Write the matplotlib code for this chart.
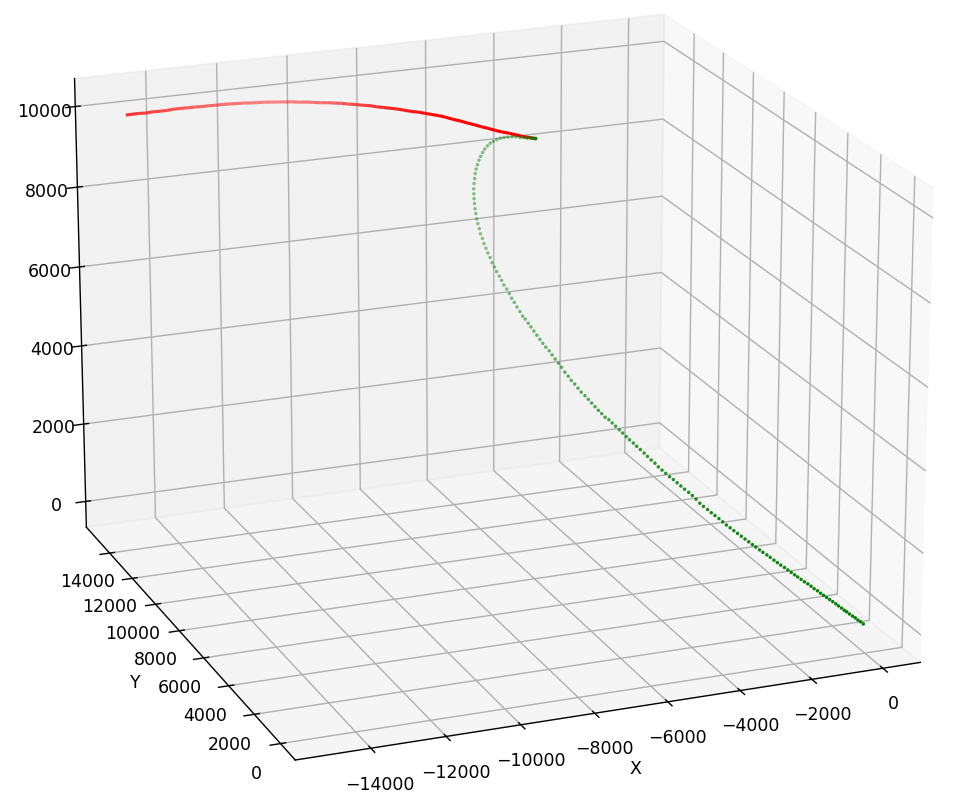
import matplotlib
matplotlib.use("Agg")
import matplotlib.pyplot as plt
import numpy as np
from mpl_toolkits.mplot3d.art3d import Line3DCollection

W, H, D = 962, 807, 125
x_limits = (-15987, 1065)
y_limits = (-1100, 16100)
z_limits = (-670, 10690)
x_ticks = list(range(-14000, 1, 2000))
y_ticks = list(range(0, 14001, 2000))
z_ticks = list(range(0, 10001, 2000))
x_calibration = 80

green_x = [-140,-190,-240,-290,-340,-400,-450,-500,-550,-610,-660,-720,-780,-840,-900,-960,-1020,-1090,-1150,-1220,-1290,-1360,-1430,-1490,-1560,-1630,-1700,-1780,-1850,-1920,-2000,-2070,-2160,-2230,-2310,-2380,-2460,
-2540,-2620,-2700,-2780,-2860,-2940,-3020,-3100,-3190,-3270,-3350,-3440,-3520,-3600,-3680,-3760,-3850,-3930,-4010,-4090,-4170,-4260,-4340,-4420,-4490,-4570,-4650,-4720,-4800,-4880,-4950,-5030,-5100,-5180,-5250,-5330,-5400,
-5470,-5550,-5620,-5690,-5760,-5830,-5900,-5970,-6050,-6120,-6190,-6260,-6320,-6390,-6460,-6520,-6590,-6650,-6710,-6780,-6840,-6900,-6960,-7020,-7080,-7130,-7190,-7240,-7290,-7350,-7400,-7450,-7490,-7540,-7600,-7640,-7680,
-7730,-7770,-7810,-7840,-7880,-7910,-7940,-7960,-7990,-8000,-8020,-8030,-8030,-8030,-8020,-8010,-7990,-7970,-7940,-7900,-7860,-7810,-7750,-7690,-7620,-7540,-7460,-7360,-7260,-7150,-7030,-6910,-6780,-6650,-6510,-6380,-6240,
-6110,-5990,-5860,-5760,-5680]
green_y = [0,60,120,180,240,300,360,410,470,530,590,650,710,770,830,890,950,1010,1070,1120,1180,1240,1300,1360,1420,1480,1540,1600,1660,1720,1780,1840,1890,1950,2010,2070,2130,
2190,2250,2310,2370,2430,2490,2550,2610,2660,2720,2780,2840,2900,2960,3020,3080,3140,3200,3260,3320,3380,3430,3490,3550,3610,3670,3730,3790,3850,3910,3970,4030,4090,4140,4200,4260,4320,
4380,4440,4500,4560,4620,4680,4740,4800,4860,4910,4970,5030,5090,5150,5210,5270,5330,5390,5450,5510,5570,5620,5680,5740,5800,5860,5920,5980,6040,6100,6160,6220,6280,6340,6390,6450,6510,
6570,6630,6690,6750,6810,6870,6930,6990,7050,7110,7160,7220,7280,7340,7400,7460,7520,7580,7640,7700,7760,7820,7880,7930,7990,8050,8110,8170,8230,8290,8350,8410,8470,8530,8590,8640,8700,
8760,8820,8880,8940,9000]
green_z = [60,100,130,170,200,240,280,310,350,390,430,470,510,550,590,630,680,720,770,820,860,910,960,1000,1050,1100,1150,1200,1250,1300,1360,1410,1470,1520,1580,1630,1690,
1750,1810,1870,1930,1990,2050,2120,2190,2260,2320,2390,2460,2530,2620,2700,2770,2840,2910,2980,3050,3110,3190,3260,3330,3410,3480,3560,3630,3710,3780,3850,3920,3990,4070,4140,4220,4290,
4360,4410,4490,4560,4640,4720,4800,4880,4960,5050,5140,5220,5310,5400,5510,5600,5690,5780,5870,5950,6030,6120,6210,6300,6390,6470,6560,6620,6720,6820,6920,7010,7110,7210,7300,7400,7490,
7590,7690,7780,7890,7990,8090,8190,8300,8400,8510,8620,8720,8830,8930,9040,9140,9240,9340,9450,9550,9650,9740,9820,9910,9980,10050,10110,10160,10200,10220,10230,10240,10230,10210,10190,10160,10120,
10090,10050,10020,9990,9960]

red_x = [-5660,-5780,-5910,-6040,-6170,-6300,-6430,-6560,-6690,-6820,-6950,-7080,-7220,-7350,-7480,-7620,-7750,-7880,-8020,-8150,-8280,-8420,-8550,-8690,-8830,-8960,-9100,-9230,-9370,-9510,-9650,-9780,-9920,-10060,-10200,-10340,
-10530,-10740,-10960,-11170,-11380,-11590,-11800,-12010,-12220,-12430,-12640,-12860,-13060,-13270,-13480,-13690,-13900,-14110,-14310,-14520,-14730,-14940,-15140,-15320]
red_y = [9000,9160,9330,9500,9670,9840,10010,10180,10350,10520,10700,10870,11040,11210,11380,11550,11720,11890,12060,12230,12400,12570,12740,12910,13080,13250,13420,13590,13760,13930,14100,14270,14440,14610,14780,14950,
14970,14930,14880,14840,14800,14760,14720,14670,14630,14590,14550,14500,14460,14420,14380,14330,14290,14250,14210,14160,14120,14080,14040,14000]
red_z = [9950,9950,9950,9960,9970,9970,9980,10000,10010,10030,10040,10060,10070,10090,10100,10100,10100,10100,10090,10090,10090,10080,10070,10060,10060,10040,10030,10010,10000,9980,9960,9930,9910,9890,9860,9840,
9850,9880,9910,9940,9960,9980,10010,10030,10050,10070,10080,10100,10110,10130,10140,10160,10170,10170,10180,10200,10200,10220,10230,10240]

gx = np.array(green_x) + x_calibration
rx = np.array(red_x) + x_calibration

# fade along each track, as seen in the reference
g_idx = np.arange(len(gx))
g_alpha = np.interp(g_idx, [0, 35, 60, 75, 90, 105, 120, 146, 152], [1, .95, .85, .7, .6, .5, .45, .5, 1])
g_rgba = np.column_stack([np.tile([0, .5, 0], (len(gx), 1)), g_alpha])
r_idx = np.arange(len(rx) - 1)
r_alpha = np.interp(r_idx, [0, 12, 21, 30, 37, 45, 51, 58], [1, 1, .85, .55, .45, .55, .65, .8])
r_rgba = np.column_stack([np.tile([1, 0, 0], (len(rx) - 1, 1)), r_alpha])

fig = plt.figure(figsize=(W/D, H/D), dpi=D)
ax = fig.add_axes([-0.1145, -0.09775, 1.22, 1.2555], projection='3d')
ax.view_init(elev=19.5, azim=-111.5)
pts = np.column_stack([rx, red_y, red_z])
ax.add_collection3d(Line3DCollection(np.stack([pts[:-1], pts[1:]], axis=1), colors=r_rgba, linewidths=1.8, capstyle='butt'))
ax.scatter(gx, green_y, green_z, c=g_rgba, s=4, linewidths=0, depthshade=False)
ax.set_xlim(x_limits); ax.set_ylim(y_limits); ax.set_zlim(z_limits)
ax.set_xticks(x_ticks); ax.set_yticks(y_ticks); ax.set_zticks(z_ticks)
ax.set_xlabel('X'); ax.set_ylabel('Y')
fig.savefig('out.png', dpi=D)
